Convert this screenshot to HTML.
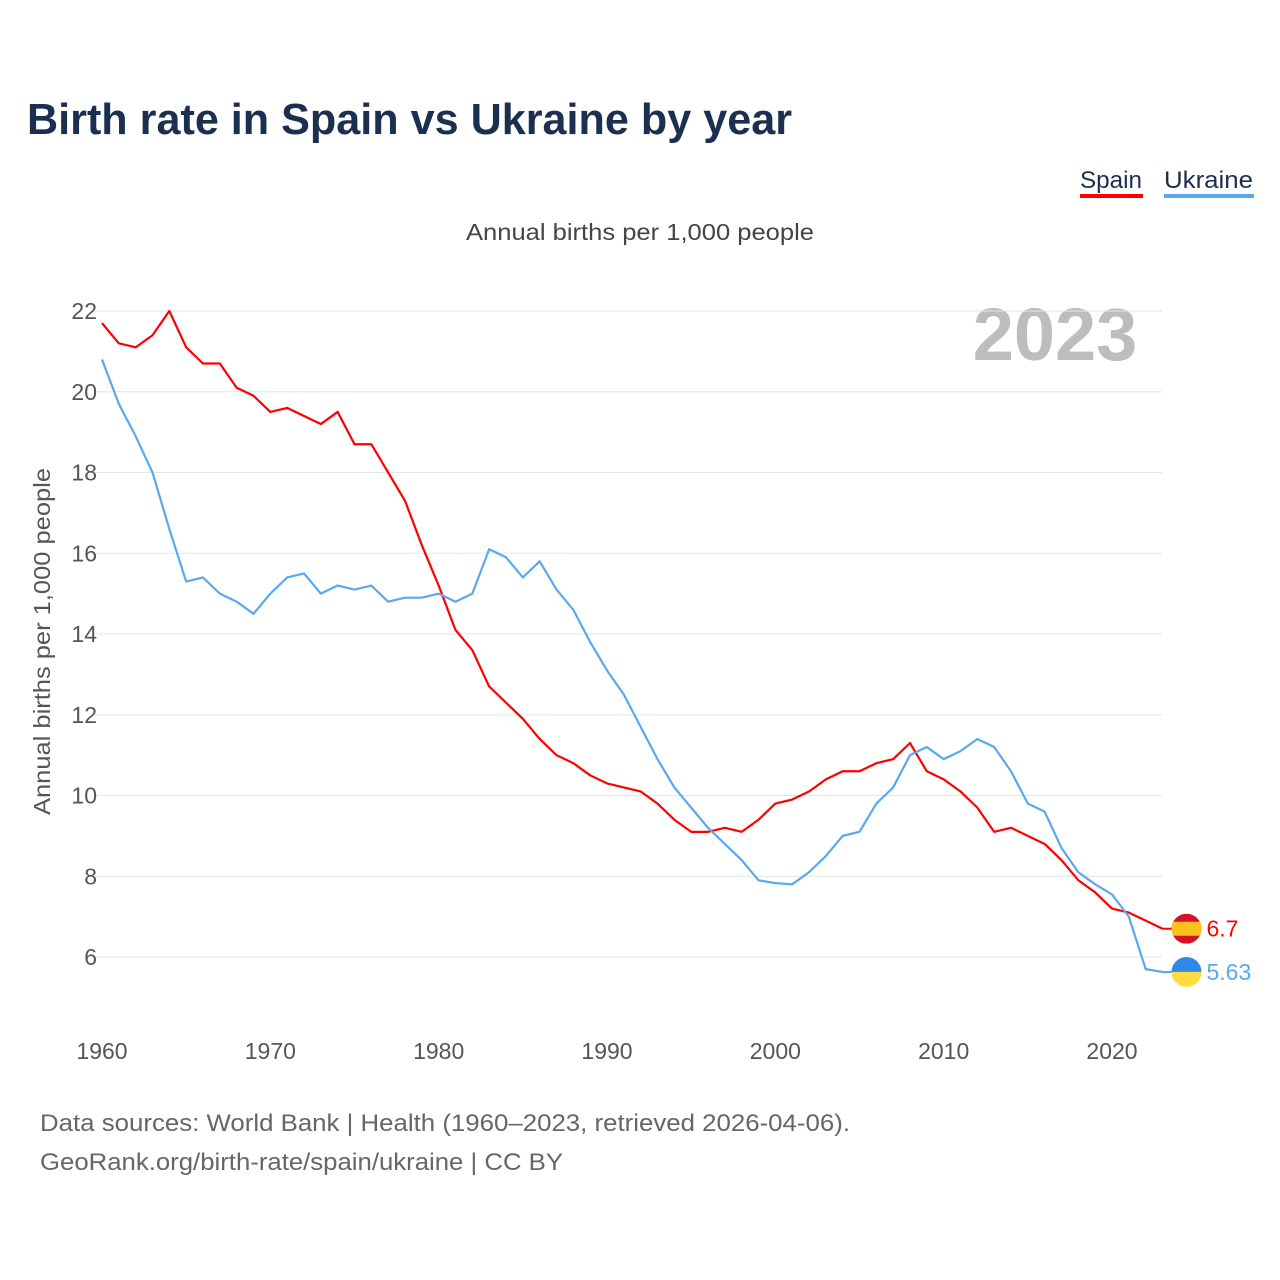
<!DOCTYPE html>
<html><head><meta charset="utf-8"><style>
html,body{margin:0;padding:0;background:#fff;width:1280px;height:1280px;overflow:hidden}
svg text{font-family:"Liberation Sans",sans-serif}
</style></head><body>
<svg id="chart" width="1280" height="1280" xmlns="http://www.w3.org/2000/svg">
<text x="27" y="134" font-size="44" font-weight="bold" fill="#1b3050" textLength="765" lengthAdjust="spacingAndGlyphs">Birth rate in Spain vs Ukraine by year</text>
<g>
<text x="1080" y="188" font-size="24" fill="#1b3050" textLength="62" lengthAdjust="spacingAndGlyphs">Spain</text>
<rect x="1080" y="194" width="63" height="4" fill="#ff0000"/>
<text x="1164" y="188" font-size="24" fill="#1b3050" textLength="89" lengthAdjust="spacingAndGlyphs">Ukraine</text>
<rect x="1164" y="194" width="90" height="4" fill="#5aa8ee"/>
</g>
<text x="466" y="240" font-size="23" fill="#444" textLength="348" lengthAdjust="spacingAndGlyphs">Annual births per 1,000 people</text>
<text x="1055" y="360" font-size="74" font-weight="bold" fill="#bdbdbd" text-anchor="middle">2023</text>
<text transform="translate(50,815) rotate(-90)" font-size="23" fill="#555" textLength="347" lengthAdjust="spacingAndGlyphs">Annual births per 1,000 people</text>
<g id="grid"></g><g id="yticks"></g><g id="xticks"></g><g id="lines"></g><g id="ends"></g>
<text x="40" y="1131" font-size="24" fill="#666" textLength="810" lengthAdjust="spacingAndGlyphs">Data sources: World Bank | Health (1960–2023, retrieved 2026-04-06).</text>
<text x="40" y="1170" font-size="24" fill="#666" textLength="523" lengthAdjust="spacingAndGlyphs">GeoRank.org/birth-rate/spain/ukraine | CC BY</text>
</svg>
<script>
const years=[];for(let y=1960;y<=2023;y++)years.push(y);
const spain=[21.7,21.2,21.1,21.4,22.0,21.1,20.7,20.7,20.1,19.9,19.5,19.6,19.4,19.2,19.5,18.7,18.7,18.0,17.3,16.2,15.2,14.1,13.6,12.7,12.3,11.9,11.4,11.0,10.8,10.5,10.3,10.2,10.1,9.8,9.4,9.1,9.1,9.2,9.1,9.4,9.8,9.9,10.1,10.4,10.6,10.6,10.8,10.9,11.3,10.6,10.4,10.1,9.7,9.1,9.2,9.0,8.8,8.4,7.9,7.6,7.2,7.1,6.9,6.7];
const ukraine=[20.8,19.7,18.9,18.0,16.6,15.3,15.4,15.0,14.8,14.5,15.0,15.4,15.5,15.0,15.2,15.1,15.2,14.8,14.9,14.9,15.0,14.8,15.0,16.1,15.9,15.4,15.8,15.1,14.6,13.8,13.1,12.5,11.7,10.9,10.2,9.7,9.2,8.8,8.4,7.9,7.83,7.8,8.1,8.5,9.0,9.1,9.8,10.2,11.0,11.2,10.9,11.1,11.4,11.2,10.6,9.8,9.6,8.7,8.1,7.8,7.55,7.0,5.7,5.63];
const yTicks=[6,8,10,12,14,16,18,20,22];
const xTicks=[1960,1970,1980,1990,2000,2010,2020];
const NS="http://www.w3.org/2000/svg";
const X=v=>102+(v-1960)*(1010/60);
const Y=v=>957-(v-6)*(646/16);
function mk(t,a,p){const e=document.createElementNS(NS,t);for(const k in a)e.setAttribute(k,a[k]);document.getElementById(p).appendChild(e);return e;}
yTicks.forEach(v=>{
 const l=mk('line',{x1:95,x2:1162,y1:Y(v),y2:Y(v),stroke:'#e6e6e6','stroke-width':1},'grid');
 
 
 const t=mk('text',{x:97,y:Y(v)+8,'font-size':23,fill:'#555','text-anchor':'end'},'yticks');t.textContent=v;
 
 
});
xTicks.forEach(v=>{
 const t=mk('text',{x:X(v),y:1059,'font-size':23,fill:'#555','text-anchor':'middle'},'xticks');t.textContent=v;
 
 
});
function line(arr,col,name){
 const p=mk('polyline',{points:arr.map((v,i)=>X(years[i])+','+Y(v)).join(' '),fill:'none',stroke:col,'stroke-width':2.2,'stroke-linejoin':'round'},'lines');
 
 
}
line(spain,'#ff0000','spain-line');
line(ukraine,'#5aa8ee','ukraine-line');
function end(arr,col,name,c1,c2,mid){
 const v=arr[arr.length-1],x=X(2023)+24,y=Y(v);
 const g=mk('g',{},'ends');
 
 
 const cp=name+'clip';
 g.innerHTML=`<line x1="${X(2023)}" x2="${x}" y1="${y}" y2="${y}" stroke="${col}" stroke-width="2"/><clipPath id="${cp}"><circle cx="${x}" cy="${y}" r="15"/></clipPath><g clip-path="url(#${cp})">`+
 (mid?`<rect x="${x-15}" y="${y-15}" width="30" height="30" fill="${c1}"/><rect x="${x-15}" y="${y-7}" width="30" height="14" fill="${c2}"/>`
     :`<rect x="${x-15}" y="${y-15}" width="30" height="15" fill="${c1}"/><rect x="${x-15}" y="${y}" width="30" height="15" fill="${c2}"/>`)+`</g>`;
 const t=mk('text',{x:x+20,y:y+8,'font-size':23,fill:col},'ends');t.textContent=String(v);
 
 
}
end(spain,'#ff0000','spain','#d8112a','#fcc21b',true);
end(ukraine,'#5aa8ee','ukraine','#2e8ae6','#fddc3f',false);
</script>
</body></html>
